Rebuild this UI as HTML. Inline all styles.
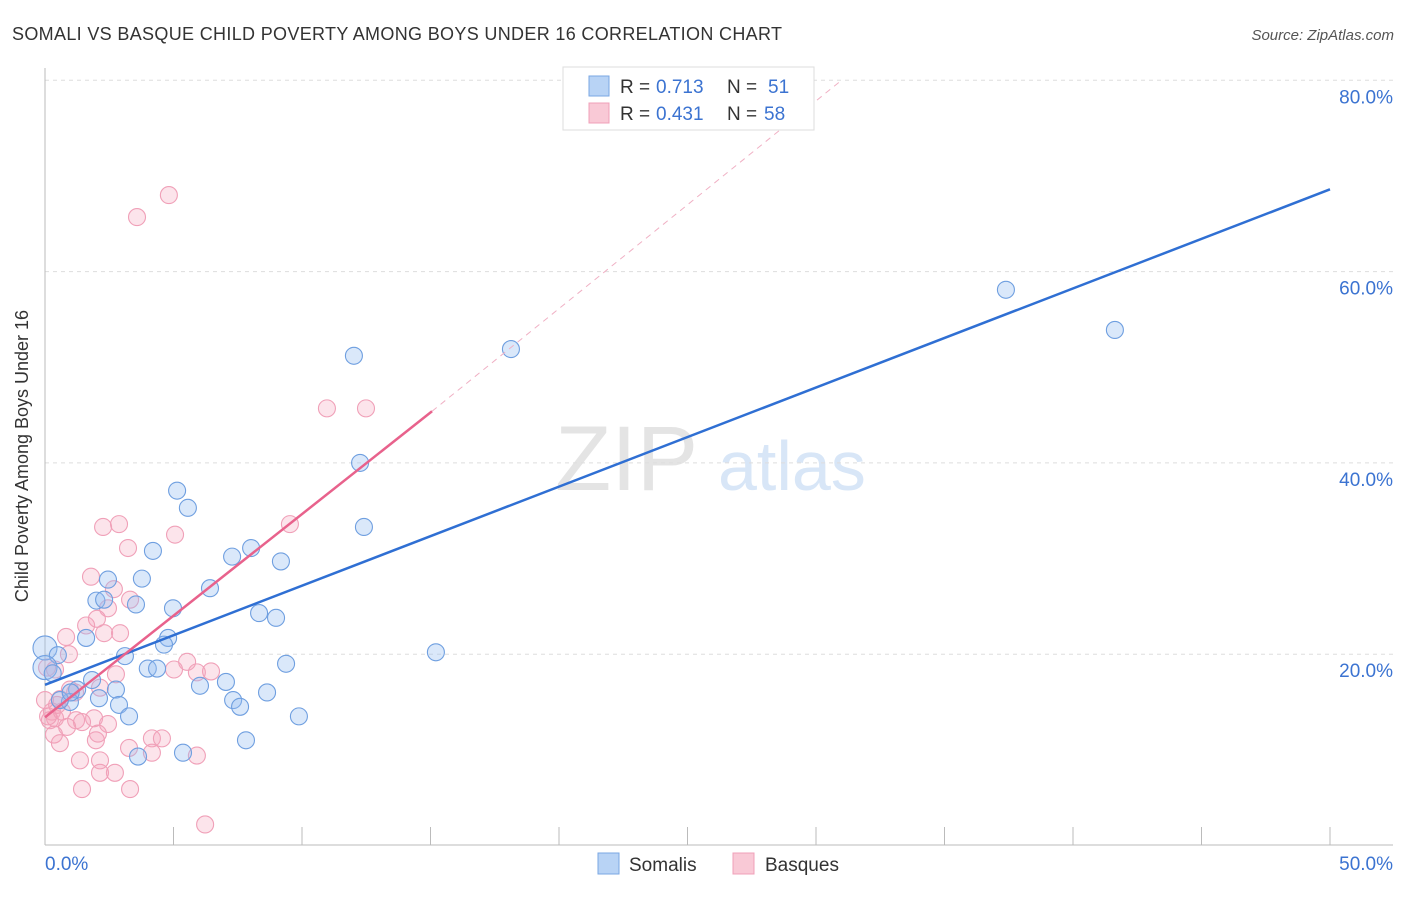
<!DOCTYPE html>
<html><head><meta charset="utf-8"><style>
body{margin:0;background:#fff;font-family:"Liberation Sans",sans-serif}
svg text{font-family:"Liberation Sans",sans-serif}
</style></head><body>
<svg id="c" width="1406" height="892" xmlns="http://www.w3.org/2000/svg">
<text x="12" y="40" font-size="18" fill="#333" textLength="770">SOMALI VS BASQUE CHILD POVERTY AMONG BOYS UNDER 16 CORRELATION CHART</text>
<text x="1394" y="40" font-size="15" fill="#555" font-style="italic" text-anchor="end">Source: ZipAtlas.com</text>
<g><text x="555" y="490" font-size="92" fill="#e4e4e4" font-family="Liberation Serif,serif">ZIP</text><text x="718" y="490" font-size="70" fill="#d8e6f7">atlas</text></g>
<g id="grid"></g><g id="axes"></g><g id="pts"></g><g id="lines"></g>
<text x="28" y="456" font-size="18" fill="#333" text-anchor="middle" transform="rotate(-90 28 456)">Child Poverty Among Boys Under 16</text>
<g>
<rect x="563" y="67" width="251" height="63" fill="#fff" stroke="#ddd"/>
<rect x="589" y="76" width="20" height="20" fill="#b8d3f5" stroke="#7aa7e3"/>
<rect x="589" y="103" width="20" height="20" fill="#f9c9d6" stroke="#f0a0b8"/>
<text x="620" y="93" font-size="19" fill="#333">R =</text><text x="656" y="93" font-size="19" fill="#3b73d1">0.713</text>
<text x="727" y="93" font-size="19" fill="#333">N =</text><text x="768" y="93" font-size="19" fill="#3b73d1">51</text>
<text x="620" y="120" font-size="19" fill="#333">R =</text><text x="656" y="120" font-size="19" fill="#3b73d1">0.431</text>
<text x="727" y="120" font-size="19" fill="#333">N =</text><text x="764" y="120" font-size="19" fill="#3b73d1">58</text>
</g>
<g>
<rect x="598" y="853" width="21" height="21" fill="#b8d3f5" stroke="#7aa7e3"/>
<text x="629" y="871" font-size="19" fill="#333">Somalis</text>
<rect x="733" y="853" width="21" height="21" fill="#f9c9d6" stroke="#f0a0b8"/>
<text x="765" y="871" font-size="19" fill="#333">Basques</text>
</g>
</svg>
<script>
const xTicks=[0,5,10,15,20,25,30,35,40,45,50];
const yTicks=[20,40,60,80];
const somaliX=[0,0.5,0,1.6,2.0,2.45,2.3,3.77,3.54,4.2,5.14,5.56,4.98,4.79,4.63,3.11,2.76,2.1,1.83,1.25,0.97,0.58,2.88,3.27,4.0,4.36,6.03,7.04,7.32,7.59,7.28,8.02,9.18,6.42,8.33,8.99,9.38,8.64,9.88,7.82,5.37,3.62,12.02,12.26,12.41,15.21,18.13,37.39,41.63,1.0,0.3];
const somaliY=[20.65,19.9,18.6,21.7,25.6,27.8,25.7,27.9,25.2,30.8,37.1,35.3,24.8,21.7,21.0,19.8,16.3,15.4,17.3,16.3,15.0,15.2,14.7,13.5,18.5,18.5,16.7,17.1,15.2,14.5,30.2,31.1,29.7,26.9,24.3,23.8,19.0,16.0,13.5,11.0,9.7,9.3,51.2,40.0,33.3,20.2,51.9,58.1,53.9,16.0,18.0];
const basqueX=[3.58,4.82,10.97,12.49,9.53,5.06,2.26,2.88,3.23,1.79,2.68,2.45,2.02,1.6,2.3,2.92,0.82,0.93,5.53,5.02,5.91,6.46,2.76,0.39,0.08,0.97,2.14,1.17,0.58,0.27,0.19,0.39,0.12,0.35,0.58,1.91,1.21,1.44,2.45,0.86,1.98,2.06,3.27,4.16,4.55,4.16,5.91,1.36,2.14,2.72,2.14,1.44,3.31,6.23,0.66,0.47,0,3.31];
const basqueY=[65.7,68.0,45.7,45.7,33.6,32.5,33.3,33.6,31.1,28.1,26.8,24.8,23.7,23.0,22.2,22.2,21.8,20.0,19.2,18.4,18.1,18.2,17.9,18.4,18.6,16.3,16.5,16.0,15.3,14.0,13.1,13.3,13.5,11.6,10.7,13.3,13.1,12.9,12.7,12.4,11.0,11.7,10.2,11.2,11.2,9.7,9.4,8.9,8.9,7.6,7.6,5.9,5.9,2.2,14.0,14.7,15.2,25.7];
const somaliLine=[[0,16.8],[50,68.6]];
const basqueLine=[[0,13.4],[15.06,45.4]];
const basqueDash=[[15.06,45.4],[30.9,79.8]];
const X=v=>45+v*25.7, Y=v=>845.5-v*9.565;
const NS="http://www.w3.org/2000/svg";
function mk(p,t,a){const e=document.createElementNS(NS,t);for(const k in a)e.setAttribute(k,a[k]);p.appendChild(e);return e;}
const grid=document.getElementById('grid'),axes=document.getElementById('axes'),pts=document.getElementById('pts'),lines=document.getElementById('lines');
yTicks.forEach(t=>{
const l=mk(grid,'line',{x1:45,x2:1393,y1:Y(t),y2:Y(t),stroke:'#ddd','stroke-dasharray':'4,4'});


const tx=mk(axes,'text',{x:1393,y:Y(t)+23,'font-size':19,fill:'#3b73d1','text-anchor':'end'});tx.textContent=t.toFixed(1)+'%';


});
mk(axes,'line',{x1:45,x2:45,y1:68,y2:845,stroke:'#bbb'});
const xa=mk(axes,'line',{x1:45,x2:1393,y1:845,y2:845,stroke:'#bbb'});


xTicks.forEach(t=>{const l=mk(axes,'line',{x1:X(t),x2:X(t),y1:827,y2:845,stroke:'#bbb'});

});
[[0,'0.0%','start',45],[50,'50.0%','end',1393]].forEach(d=>{const t=mk(axes,'text',{x:d[3],y:870,'font-size':19,fill:'#3b73d1','text-anchor':d[2]});t.textContent=d[1];

});
basqueX.forEach((v,i)=>{const c=mk(pts,'circle',{cx:X(v),cy:Y(basqueY[i]),r:8.5,fill:'rgba(245,165,190,0.3)',stroke:'#f0a0b8','stroke-width':1.1});

});
somaliX.forEach((v,i)=>{const c=mk(pts,'circle',{cx:X(v),cy:Y(somaliY[i]),r:(i<3?(i==1?8.5:12):8.5),fill:'rgba(150,190,240,0.35)',stroke:'#6f9fe0','stroke-width':1.1});

});
const bl=mk(lines,'line',{x1:X(somaliLine[0][0]),y1:Y(somaliLine[0][1]),x2:X(somaliLine[1][0]),y2:Y(somaliLine[1][1]),stroke:'#2f6fd3','stroke-width':2.5});


const pl=mk(lines,'line',{x1:X(basqueLine[0][0]),y1:Y(basqueLine[0][1]),x2:X(basqueLine[1][0]),y2:Y(basqueLine[1][1]),stroke:'#e8628c','stroke-width':2.5});


const pd=mk(lines,'line',{x1:X(basqueDash[0][0]),y1:Y(basqueDash[0][1]),x2:X(basqueDash[1][0]),y2:Y(basqueDash[1][1]),stroke:'#f0b0c4','stroke-width':1,'stroke-dasharray':'6,5'});


</script>
</body></html>
